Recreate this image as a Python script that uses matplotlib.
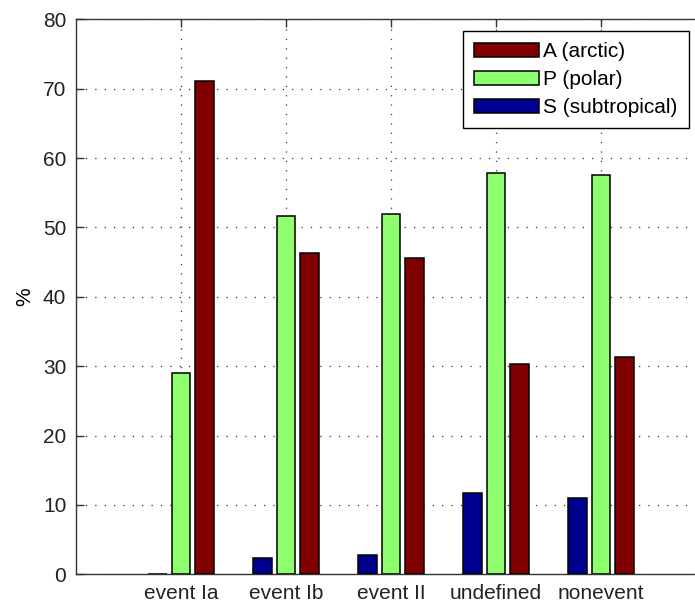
import numpy as np
import matplotlib
matplotlib.use("Agg")
import matplotlib.pyplot as plt

plt.rcParams["font.family"] = ["Liberation Sans", "DejaVu Sans"]

# --- Data ---
categories = ["event Ia", "event Ib", "event II", "undefined", "nonevent"]
subtropical = [0.0, 2.3, 2.8, 11.7, 11.0]
polar = [29.0, 51.7, 51.9, 57.9, 57.6]
arctic = [71.1, 46.3, 45.6, 30.3, 31.3]

series = [
    ("S (subtropical)", subtropical, "#00008F"),
    ("P (polar)", polar, "#8FFF70"),
    ("A (arctic)", arctic, "#800000"),
]

# --- Figure ---
fig = plt.figure(figsize=(6.95, 6.05), dpi=100)
ax = fig.add_axes([76 / 695, 30.7 / 605, 630 / 695, 555 / 605])

x = np.arange(1, len(categories) + 1)
step = (2 / 3) / 3
width = 0.8 * step
handles = {}
for i, (label, vals, color) in enumerate(series):
    b = ax.bar(x + (i - 1) * step, vals, width, color=color,
               edgecolor="black", linewidth=1.1, label=label, zorder=3)
    handles[label] = b

ax.set_xlim(0, 6)
ax.set_ylim(0, 80)
ax.set_xticks(x)
ax.set_xticklabels(categories)
ax.set_yticks(np.arange(0, 81, 10))
ax.set_ylabel("%", fontsize=15, labelpad=6)

ax.grid(True, color="#333333", linestyle=(0, (1, 6.5)), linewidth=0.9, zorder=0)
ax.tick_params(direction="in", length=6, width=1, colors="#333333",
               labelsize=15, labelcolor="#222222", top=True, right=True, pad=7)
for s in ax.spines.values():
    s.set_color("#333333")
    s.set_linewidth(1.0)

order = ["A (arctic)", "P (polar)", "S (subtropical)"]
leg = ax.legend([handles[k] for k in order], order, loc="upper right",
                bbox_to_anchor=(689 / 695, 1 - 31 / 605),
                bbox_transform=fig.transFigure, fontsize=15, frameon=True,
                fancybox=False, edgecolor="black", framealpha=1,
                handlelength=3.1, handleheight=0.65, handletextpad=0.2,
                labelspacing=0.42, borderpad=0.55, borderaxespad=0)
leg.get_frame().set_linewidth(1.0)

fig.savefig("out.png", dpi=100)
